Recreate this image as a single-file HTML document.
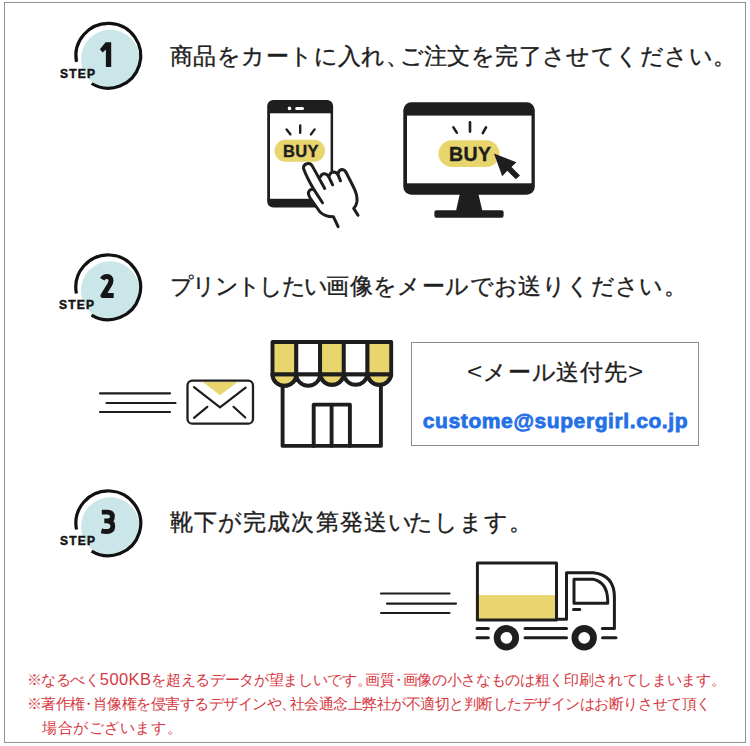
<!DOCTYPE html>
<html><head><meta charset="utf-8">
<style>
html,body{margin:0;padding:0;background:#fff;}
body{width:750px;height:746px;position:relative;overflow:hidden;font-family:"Liberation Sans",sans-serif;color:#222;}
.frame{position:absolute;left:4px;top:2px;width:740px;height:739px;border:1px solid #929292;}
.abs{position:absolute;}
.t{position:absolute;left:170px;font-size:23px;line-height:23px;white-space:nowrap;color:#1e1e1e;-webkit-text-stroke:0.35px #1e1e1e;}
.red{position:absolute;font-size:14.5px;line-height:16px;white-space:nowrap;color:#d63842;}
.pc{margin-right:-0.42em;}
.lt{font-size:26px;-webkit-text-stroke:0.1px #1e1e1e;display:inline-block;transform:scaleY(0.85);}
.pm{margin:0 -0.22em;}
svg{position:absolute;left:0;top:0;overflow:visible;}
.step{position:absolute;font-weight:bold;color:#151515;white-space:nowrap;}
.stp{font-size:12px;line-height:12px;letter-spacing:1.2px;-webkit-text-stroke:0.45px #151515;}
.num{font-size:34px;line-height:34px;}
</style></head><body>
<div class="frame"></div>

<svg width="750" height="746" viewBox="0 0 750 746">
  <g transform="translate(108.3 55.7)">
    <circle cx="2" cy="3.2" r="29.2" fill="#cae6e9"/>
    <path d="M -31.8 6.2 A 32.4 32.4 0 1 1 -16.7 27.8" fill="none" stroke="#111" stroke-width="3.2"/>
  </g>
  <g transform="translate(108.2 287.3)">
    <circle cx="2" cy="3.2" r="29.2" fill="#cae6e9"/>
    <path d="M -31.8 6.2 A 32.4 32.4 0 1 1 -16.7 27.8" fill="none" stroke="#111" stroke-width="3.2"/>
  </g>
  <g transform="translate(108.3 523.3)">
    <circle cx="2" cy="3.2" r="29.2" fill="#cae6e9"/>
    <path d="M -31.8 6.2 A 32.4 32.4 0 1 1 -16.7 27.8" fill="none" stroke="#111" stroke-width="3.2"/>
  </g>


  <!-- numbers -->
  <path d="M111.2 42.3 L111.2 67.1 L105.9 67.1 L105.9 49.6 L102.6 52.4 L99.9 49.3 L105.6 42.3 Z" fill="#151515"/>
  <path d="M102.2 279.2 C103.4 277.2 105.3 276.6 107.2 276.6 C109.6 276.6 111 278.4 111 280.6 C111 282.6 110.2 284 109 285.8 L103 295.6 L113.7 295.6" fill="none" stroke="#151515" stroke-width="5" stroke-linejoin="round"/>
  <path d="M101.8 512.1 L107.4 512.1 Q112.4 512.1 112.4 516.4 Q112.4 520.9 107.2 520.9 L104.3 520.9 M106.4 520.9 Q112.8 520.9 112.8 526.3 Q112.8 531.5 106.6 531.5 Q103.8 531.5 101.4 530.9" fill="none" stroke="#151515" stroke-width="4.8" stroke-linejoin="round"/>
  <!-- PHONE -->
  <rect x="267.2" y="100.1" width="65.9" height="107.4" rx="6" fill="#1e1e1e"/>
  <rect x="270" y="113.3" width="60.6" height="85.5" fill="#fff"/>
  <circle cx="289.5" cy="108.4" r="1.8" fill="#fff"/>
  <rect x="295.2" y="107" width="8.8" height="3" rx="1.5" fill="#fff"/>
  <g stroke="#1e1e1e" stroke-width="2.4" stroke-linecap="round">
    <line x1="286.6" y1="129.4" x2="290.4" y2="134.2"/>
    <line x1="300.2" y1="125.4" x2="300.2" y2="132.8"/>
    <line x1="314.6" y1="129.4" x2="310.9" y2="134.4"/>
  </g>
  <rect x="274.5" y="139.8" width="50.5" height="22" rx="11" fill="#e9d56d"/>
  <!-- hand -->
  <path d="M338.1 226.6 L333.5 216.8 Q325 216.8 320 212 L310 198 Q306.5 192.5 310.5 189.8 L303.5 168.6 A4.7 4.7 0 0 1 312.5 166.4 L320.3 176.5 Q322 173.5 324.5 173.8 Q328 174.2 329 177 Q330.5 172 333.5 172 Q336.5 172.2 337.7 174 Q339 169.6 341.6 169.6 Q344.5 169.8 346 172.5 L354 188 Q358 196 357 202 Q356 206 353.7 208.4 L358 215.3 L358 232 L338 232 Z" fill="#fff"/>
  <g fill="none" stroke="#1e1e1e" stroke-width="3" stroke-linecap="round" stroke-linejoin="round">
    <path d="M338.1 226.6 L333.5 216.8 Q325 216.8 320 212 L310.5 198.5 Q307 193.5 309.5 190.5 Q311.5 188.3 314 189.8"/>
    <path d="M322.5 202.8 L313.3 188.6 Q306.8 177.5 303.5 168.6 A4.7 4.7 0 0 1 312.5 166.4 L324.7 188.5"/>
    <path d="M320.3 176.8 Q321.8 173.6 324.5 173.8 Q327.6 174.1 328.8 176.8 L332.6 184.8"/>
    <path d="M328.8 176.8 Q330.2 172.2 333.3 172 Q336.3 172 337.7 174.2 L340.5 180.8"/>
    <path d="M337.7 174.2 Q339 169.8 341.8 169.6 Q344.6 169.6 346 172.3 L353.5 187 Q357.6 195 357 201.5 Q356.4 205.5 353.7 208.4 L358 215.3"/>
  </g>
<!-- MONITOR -->
  <rect x="403.3" y="102.3" width="131.5" height="92.4" rx="8" fill="#1e1e1e"/>
  <rect x="407" y="115.6" width="124.5" height="67.7" fill="#fff"/>
  <path d="M459.8 194 L478.4 194 L482.4 211 L456 211 Z" fill="#1e1e1e"/>
  <rect x="434.4" y="210.2" width="69.2" height="7.6" rx="2" fill="#1e1e1e"/>
  <g stroke="#1e1e1e" stroke-width="2.6" stroke-linecap="round">
    <line x1="453.4" y1="127.4" x2="456.8" y2="132.6"/>
    <line x1="470" y1="122.4" x2="470" y2="131.6"/>
    <line x1="486" y1="127.4" x2="482.8" y2="133.2"/>
  </g>
  <rect x="438.5" y="140.3" width="61" height="26.7" rx="13.3" fill="#e9d56d"/>
  <path d="M494 153.6 L516.4 162.3 L511.5 167.1 L520 175.6 L515.8 179.2 L507.3 170.8 L502.2 176.2 Z" fill="#1e1e1e"/>

  <!-- mail lines -->
  <g stroke="#1e1e1e" stroke-width="2.2" stroke-linecap="round">
    <line x1="100" y1="393.3" x2="170" y2="393.3"/>
    <line x1="106.5" y1="403" x2="175.5" y2="403"/>
    <line x1="100" y1="412" x2="170" y2="412"/>
  </g>
  <!-- envelope -->
  <rect x="187.5" y="380.7" width="65.5" height="43" rx="4.8" fill="#fff" stroke="#1e1e1e" stroke-width="2.3"/>
  <path d="M202.8 381.9 L237.6 381.9 L220 395.3 Z" fill="#e9d56d"/>
  <g stroke="#1e1e1e" stroke-width="2.2" stroke-linecap="round" stroke-linejoin="round" fill="none">
    <path d="M194 387.2 L220 407.4 L245.6 387.6"/>
    <line x1="194" y1="417.8" x2="207.3" y2="406.8"/>
    <line x1="233.5" y1="406.8" x2="245.3" y2="417.5"/>
  </g>

  <!-- STORE -->
  <g stroke="#1e1e1e" stroke-width="3.9" stroke-linejoin="round" stroke-linecap="round">
    <path d="M272.5 374.2 A11.9 11.6 0 0 0 296.3 374.2 A11.9 11.6 0 0 0 320.1 374.2 A11.9 11.6 0 0 0 343.8 374.2 A11.9 11.6 0 0 0 367.5 374.2 A11.9 11.6 0 0 0 391.2 374.2 Z" fill="#fff"/>
    <path d="M272.5 374.2 A11.9 11.6 0 0 0 296.3 374.2 Z" fill="#e9d56d"/>
    <path d="M320.1 374.2 A11.9 11.6 0 0 0 343.8 374.2 Z" fill="#e9d56d"/>
    <path d="M367.5 374.2 A11.9 11.6 0 0 0 391.2 374.2 Z" fill="#e9d56d"/>
    <rect x="272.5" y="342" width="23.8" height="32.2" fill="#e9d56d"/>
    <rect x="296.3" y="342" width="23.8" height="32.2" fill="#fff"/>
    <rect x="320.1" y="342" width="23.7" height="32.2" fill="#e9d56d"/>
    <rect x="343.8" y="342" width="23.7" height="32.2" fill="#fff"/>
    <rect x="367.5" y="342" width="23.7" height="32.2" fill="#e9d56d"/>
    <path d="M282.6 386 L282.6 445.9 L380.9 445.9 L380.9 386" fill="none"/>
    <path d="M313.7 445.9 L313.7 404.6 L349.9 404.6 L349.9 445.9 M331.6 404.6 L331.6 445.9" fill="none"/>
  </g>

  <!-- TRUCK -->
  <g stroke="#1e1e1e" stroke-width="2.2" stroke-linecap="round">
    <line x1="381" y1="593.5" x2="449.5" y2="593.5"/>
    <line x1="387" y1="603.6" x2="456" y2="603.6"/>
    <line x1="381" y1="613" x2="449.5" y2="613"/>
  </g>
  <rect x="477.4" y="595.1" width="79.1" height="24.9" fill="#e9d56d"/>
  <g stroke="#1e1e1e" stroke-width="3" stroke-linecap="round" stroke-linejoin="round" fill="none">
    <rect x="477.4" y="562.9" width="79.1" height="57" />
    <path d="M556.5 619.3 L566.5 619.3 L566.5 572.7 L593.3 572.7 Q614.4 575 614.4 597 L614.4 628.5 L602.3 628.5"/>
    <path d="M574 579.3 L593 579.3 Q607 582 607.7 600 L607.7 603.2 L574 603.2 Z"/>
    <line x1="573.5" y1="609.5" x2="579.8" y2="609.5"/>
    <line x1="477" y1="628.6" x2="488.3" y2="628.6"/>
    <line x1="477" y1="637.8" x2="488.3" y2="637.8"/>
    <line x1="525" y1="628.6" x2="566.5" y2="628.6"/>
    <line x1="525" y1="637.8" x2="566.5" y2="637.8"/>
    <line x1="602.5" y1="637.8" x2="616" y2="637.8"/>
  </g>
  <circle cx="506.4" cy="637.8" r="9.3" fill="none" stroke="#1e1e1e" stroke-width="6.8"/>
  <circle cx="584.2" cy="637.8" r="9.3" fill="none" stroke="#1e1e1e" stroke-width="6.8"/>
</svg>

<div class="step stp" style="left:60px;top:68px">STEP</div>
<div class="step stp" style="left:59px;top:299px">STEP</div>
<div class="step stp" style="left:60px;top:535px">STEP</div>

<div class="abs" style="left:283px;top:142.5px;font-size:16.5px;line-height:16px;font-weight:bold;color:#1e1e1e;letter-spacing:0.3px;-webkit-text-stroke:0.35px #1e1e1e;">BUY</div>
<div class="abs" style="left:449px;top:144.5px;font-size:19.5px;line-height:19px;font-weight:bold;color:#1e1e1e;letter-spacing:0.4px;-webkit-text-stroke:0.4px #1e1e1e;">BUY</div>

<div class="t" style="top:45px;letter-spacing:0.42px">商品をカートに入れ<span class="pc">、</span>ご注文を完了させてください。</div>
<div class="t" style="top:275px;letter-spacing:0.4px"><span style="letter-spacing:-1.7px">プリントしたい</span>画像をメールでお送りください。</div>
<div class="t" style="top:510.5px;letter-spacing:1.1px">靴下が完成次第発送<span style="margin-right:-4px">い</span>たします。</div>

<div class="red" style="left:26.5px;top:672px;letter-spacing:-0.34px">※なるべく<span style="font-size:16.5px;letter-spacing:0.4px;line-height:10px">500KB</span>を超えるデータが望ましいです<span class="pc">。</span>画質<span class="pm">・</span>画像の小さなものは粗く印刷されてしまいます。</div>
<div class="red" style="left:26.5px;top:696px;letter-spacing:-0.49px">※著作権<span class="pm">・</span>肖像権を侵害するデザインや<span class="pc">、</span>社会通念上弊社が不適切と判断したデザインはお断りさせて頂く</div>
<div class="red" style="left:42px;top:720px;letter-spacing:0.57px">場合がございます。</div>

<!-- email box -->
<div class="abs" style="left:410.8px;top:342px;width:286px;height:101.5px;border:1.5px solid #8c8c8c;"></div>
<div class="abs" style="left:411px;top:358px;width:289px;text-align:center;font-size:23px;line-height:26px;color:#1e1e1e;white-space:nowrap;letter-spacing:0.8px;-webkit-text-stroke:0.35px #1e1e1e;"><span class="lt">&lt;</span>メール送付先<span class="lt">&gt;</span></div>
<div class="abs" style="left:411px;top:408px;width:289px;text-align:center;font-size:21px;line-height:26px;font-weight:bold;color:#2470e6;white-space:nowrap;letter-spacing:0.6px;-webkit-text-stroke:0.8px #2470e6;">custome@supergirl.co.jp</div>

</body></html>
